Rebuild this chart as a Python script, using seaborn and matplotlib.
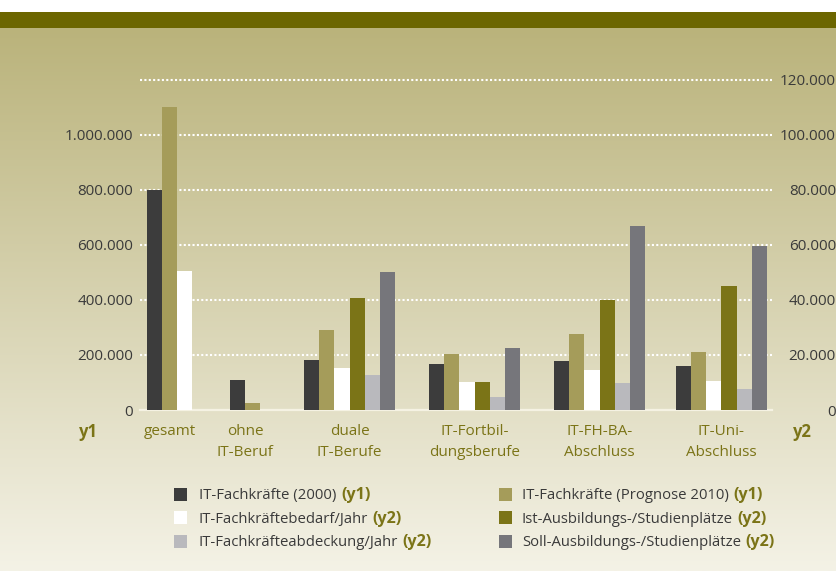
import numpy as np
import pandas as pd
import matplotlib
matplotlib.use("Agg")
import matplotlib.pyplot as plt
from matplotlib.patches import Rectangle
import seaborn as sns

# ---------------- data ----------------
categories = ["gesamt", "ohne\nIT-Beruf", "duale\nIT-Berufe", "IT-Fortbil-\ndungsberufe",
              "IT-FH-BA-\nAbschluss", "IT-Uni-\nAbschluss"]
fachkraefte_2000 = [800000, 110000, 180000, 167000, 178000, 160000]          # y1
fachkraefte_2010 = [1100000, 25000, 290000, 204000, 276000, 211000]          # y1
bedarf_jahr = [50500, np.nan, 15300, 10200, 14500, 10500]                     # y2
ist_plaetze = [np.nan, np.nan, 40700, 10200, 40000, 45100]                    # y2
abdeckung_jahr = [np.nan, np.nan, 12700, 4700, 9800, 7600]                    # y2
soll_plaetze = [np.nan, np.nan, 50000, 22500, 67000, 59600]                   # y2

series_names = ["IT-Fachkräfte (2000)", "IT-Fachkräfte (Prognose 2010)",
                "IT-Fachkräftebedarf/Jahr", "Ist-Ausbildungs-/Studienplätze",
                "IT-Fachkräfteabdeckung/Jahr", "Soll-Ausbildungs-/Studienplätze"]
series_values = [fachkraefte_2000, fachkraefte_2010, bedarf_jahr, ist_plaetze,
                 abdeckung_jahr, soll_plaetze]
series_axis = ["y1", "y1", "y2", "y2", "y2", "y2"]
left_ticks = [0, 200000, 400000, 600000, 800000, 1000000]
right_ticks = [0, 20000, 40000, 60000, 80000, 100000, 120000]

# ---------------- styles / layout ----------------
colors = ["#3c3c3c", "#a59c5a", "#ffffff", "#7b7417", "#b9b9bd", "#76767b"]
olive_text = "#7b7417"
num_color = "#3a3a3a"
group_start = [0, 5.49, 10.37, 18.61, 26.85, 34.89]   # group offsets in bar-width units

W, H = 837, 571
plt.rcParams["font.family"] = ["Open Sans", "DejaVu Sans"]

rows = []
for g, cat in enumerate(categories):
    for s, (name, vals) in enumerate(zip(series_names, series_values)):
        v = vals[g]
        if not np.isnan(v):
            rows.append({"pos": group_start[g] + s, "value": v, "series": name,
                         "axis": series_axis[s], "cat": cat})
df = pd.DataFrame(rows)
tick_pos = df.groupby("cat", sort=False)["pos"].mean().reindex(categories).values

fig = plt.figure(figsize=(W / 100, H / 100), dpi=100)
fig.patch.set_facecolor("white")

# background gradient + top band
bg = fig.add_axes([0, 0, 1, 1])
bg.set_zorder(-10)
top_c = np.array([186, 179, 123]) / 255
bot_c = np.array([244, 242, 230]) / 255
t = np.linspace(0, 1, 256)[:, None]
grad = (top_c[None, :] * (1 - t) + bot_c[None, :] * t)[:, None, :]
bg.imshow(grad, extent=(0, W, H, 28), aspect="auto", interpolation="bilinear")
bg.add_patch(Rectangle((0, 12), W, 16, color="#6c6600", lw=0))
bg.set_xlim(0, W)
bg.set_ylim(H, 0)
bg.axis("off")

ax = fig.add_axes([140 / W, (H - 410) / H, 632 / W, (410 - 73) / H])
ax.patch.set_alpha(0)
ax2 = ax.twinx()
ax2.patch.set_alpha(0)

y1_names = [n for n, a in zip(series_names, series_axis) if a == "y1"]
y2_names = [n for n, a in zip(series_names, series_axis) if a == "y2"]
pal = dict(zip(series_names, colors))

sns.barplot(data=df[df["axis"] == "y1"], x="pos", y="value", hue="series",
            hue_order=y1_names, palette=pal, native_scale=True, dodge=False,
            width=1.0, errorbar=None, legend=False, saturation=1, linewidth=0, ax=ax)
sns.barplot(data=df[df["axis"] == "y2"], x="pos", y="value", hue="series",
            hue_order=y2_names, palette=pal, native_scale=True, dodge=False,
            width=1.0, errorbar=None, legend=False, saturation=1, linewidth=0, ax=ax2)

ax.set_xlim(-0.94, 40.72)
ax.set_ylim(0, 1225000)
ax2.set_ylim(0, 122500)

fmt = lambda v: f"{int(v):,}".replace(",", ".")

ax.set_yticks(left_ticks, labels=[fmt(v) for v in left_ticks])
ax.set_yticks([1200000], minor=True)
ax.yaxis.grid(True, which="both", color="white", linestyle=(0, (1, 1.1)), linewidth=1.5)
ax.set_axisbelow(True)
ax.axhline(0, color="#f5f2e3", lw=1.6, clip_on=False, zorder=0.8)
ax.tick_params(axis="y", which="both", length=0, pad=5, labelsize=11, labelcolor=num_color)

ax2.set_yticks(right_ticks, labels=[fmt(v) for v in right_ticks], ha="right")
ax2.tick_params(axis="y", length=0, pad=46, labelsize=11, labelcolor=num_color)

ax.set_xticks(tick_pos, labels=categories, linespacing=1.55)
ax.tick_params(axis="x", length=0, pad=10, labelsize=11, labelcolor=olive_text)

for a in (ax, ax2):
    a.set_xlabel("")
    a.set_ylabel("")
    for sp in a.spines.values():
        sp.set_visible(False)

fig.text(88 / W, 1 - 432 / H, "y1", ha="center", va="center", weight="bold",
         color=olive_text, fontsize=12)
fig.text(802 / W, 1 - 432 / H, "y2", ha="center", va="center", weight="bold",
         color=olive_text, fontsize=12)

# legend (two columns, bold axis suffix)
col_sq_x = [174, 499]
col_tx_x = [199, 522]
row_y = [494, 517.5, 541]
main_texts = []
for i, name in enumerate(series_names):
    c, r = i % 2, i // 2
    yc = row_y[r]
    fig.add_artist(Rectangle((col_sq_x[c] / W, 1 - (yc + 6.5) / H), 13 / W, 13 / H,
                             transform=fig.transFigure, color=colors[i], lw=0))
    txt = fig.text(col_tx_x[c] / W, 1 - (yc + 5.3) / H, name, ha="left", va="baseline",
                   fontsize=10.7, color=num_color)
    main_texts.append((txt, yc, i))

fig.canvas.draw()
renderer = fig.canvas.get_renderer()
for txt, yc, i in main_texts:
    bb = txt.get_window_extent(renderer)
    fig.text((bb.x1 + 4.5) / W, 1 - (yc + 5.3) / H, f"({series_axis[i]})", ha="left",
             va="baseline", fontsize=11.6, weight="bold", color=olive_text)

fig.savefig("out.png", dpi=100)
